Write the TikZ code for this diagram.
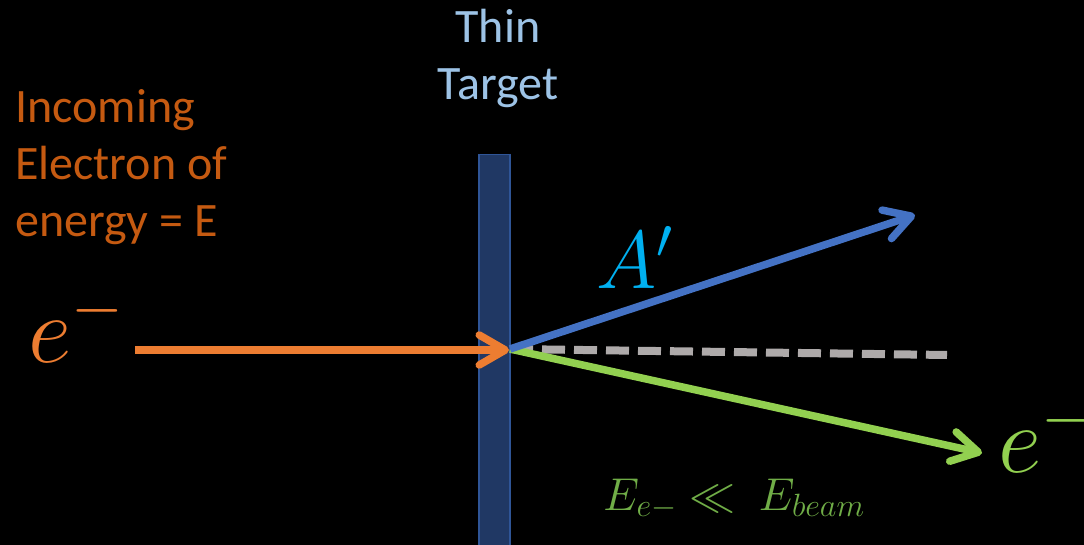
\RequirePackage{fix-cm}
\documentclass[tikz,border=0pt]{standalone}
\usepackage{fontspec}
\setmainfont{Carlito}
\usetikzlibrary{arrows.meta}
\definecolor{orarrow}{HTML}{ED7D31}
\definecolor{ortext}{HTML}{C55A11}
\definecolor{bluearrow}{HTML}{4472C4}
\definecolor{cyantext}{HTML}{00B0F0}
\definecolor{graydash}{HTML}{AEAAAA}
\definecolor{greenarrow}{HTML}{92D050}
\definecolor{greentext}{HTML}{70AD47}
\definecolor{lightblue}{HTML}{9DC3E6}
\definecolor{targetfill}{HTML}{203864}
\definecolor{targetedge}{HTML}{2F5597}
\tikzset{
  beam/.style={line width=7.5pt, -{Straight Barb[length=26pt,width=30pt,line cap=round,line join=round]}},
  bigtext/.style={font=\fontsize{48}{57}\selectfont, inner sep=0pt},
  mathlabel/.style={anchor=base west, inner sep=0pt},
}
\begin{document}
\begin{tikzpicture}[x=1pt,y=-1pt]
\fill[black] (0,0) rectangle (1084,545);
\useasboundingbox (0,0) rectangle (1084,545);
% target
\node[draw=targetedge, fill=targetfill, line width=1.5pt, minimum width=31pt, minimum height=420pt, inner sep=0pt, anchor=north] (target) at (494.5,154) {};
% labels
\node[bigtext, text=lightblue, align=center, anchor=base] (thin) at (498,100) {Thin\\Target};
\node[bigtext, text=ortext, align=left, anchor=base west] (incoming) at (15,237) {Incoming\\Electron of\\energy = E};
% points
\coordinate (hit) at (510,349);
\coordinate (ostart) at (135,350);
\coordinate (otip) at (509,350);
\coordinate (atip) at (915,215);
\coordinate (dend) at (947,355);
\coordinate (gtip) at (982,453);
% arrows
\draw[graydash, line width=8pt, dash pattern=on 23pt off 9pt] (hit) -- (dend);
\draw[beam, greenarrow] (hit) -- (gtip);
\draw[beam, bluearrow] (hit) -- (atip);
\draw[beam, orarrow] (ostart) -- (otip);
% math labels
\node[mathlabel, text=orarrow, font=\fontsize{95}{100}\selectfont] (ein) at (28,362) {$e^{-}$};
\node[mathlabel, text=greenarrow, font=\fontsize{95}{100}\selectfont] (eout) at (998,472) {$e^{-}$};
\node[mathlabel, text=cyantext, font=\fontsize{82}{90}\selectfont] (aprime) at (596,288) {$A'$};
\node[mathlabel, text=greentext, font=\fontsize{46}{50}\selectfont] (energy) at (603,510) {$E_{e-}\ll\ E_{beam}$};
\end{tikzpicture}
\end{document}
